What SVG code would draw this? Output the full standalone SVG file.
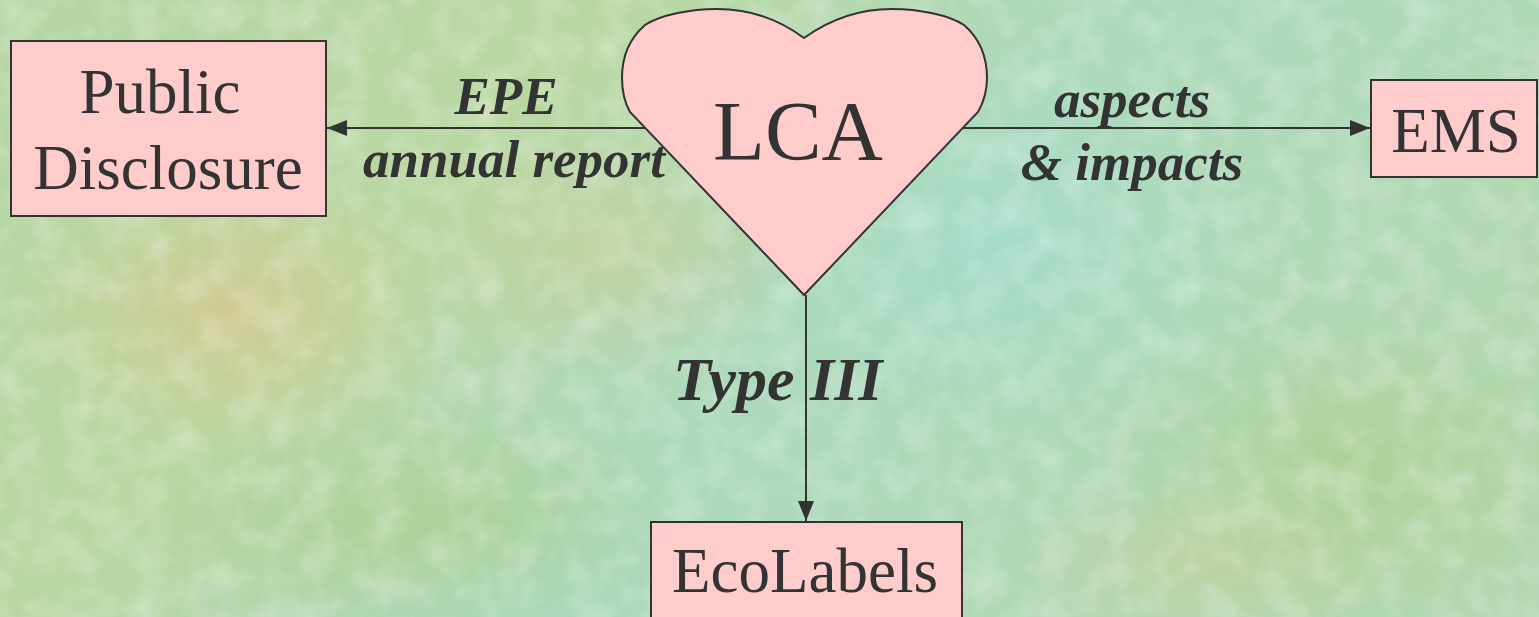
<svg xmlns="http://www.w3.org/2000/svg" width="1539" height="617" viewBox="0 0 1539 617">
  <defs>
    <linearGradient id="bg" x1="0" y1="0" x2="1" y2="0.4">
      <stop offset="0" stop-color="#b4d6a4"/>
      <stop offset="0.35" stop-color="#b9d7a2"/>
      <stop offset="0.65" stop-color="#acd9bd"/>
      <stop offset="1" stop-color="#b2d8b0"/>
    </linearGradient>
    <radialGradient id="warm1" cx="0.5" cy="0.5" r="0.5">
      <stop offset="0" stop-color="#d6c98f" stop-opacity="0.8"/>
      <stop offset="1" stop-color="#d6c98f" stop-opacity="0"/>
    </radialGradient>
    <radialGradient id="teal1" cx="0.5" cy="0.5" r="0.5">
      <stop offset="0" stop-color="#a4dccd" stop-opacity="0.8"/>
      <stop offset="1" stop-color="#a4dccd" stop-opacity="0"/>
    </radialGradient>
    <radialGradient id="green1" cx="0.5" cy="0.5" r="0.5">
      <stop offset="0" stop-color="#a9cf8e" stop-opacity="0.7"/>
      <stop offset="1" stop-color="#a9cf8e" stop-opacity="0"/>
    </radialGradient>
    <filter id="tex" x="0" y="0" width="100%" height="100%">
      <feTurbulence type="fractalNoise" baseFrequency="0.03" numOctaves="3" seed="4" result="n"/>
      <feColorMatrix type="matrix" values="0 0 0 0 1  0 0 0 0 1  0 0 0 0 1  0 0 0 -2.2 1.35" result="w"/>
      <feComposite in="w" in2="SourceGraphic" operator="in"/>
    </filter>
    <marker id="arr" viewBox="0 0 20 16" refX="20" refY="8" markerWidth="20" markerHeight="16" markerUnits="userSpaceOnUse" orient="auto">
      <path d="M0,0 L20,8 L0,16 Z" fill="#333"/>
    </marker>
    <style>
      .box { fill: #ffcccc; stroke: #333; stroke-width: 2; }
      .lbl { font-family: "Liberation Serif", "Times New Roman", serif; fill: #333; text-anchor: middle; }
      .node { font-size: 63px; }
      .edge { font-size: 53px; font-weight: bold; font-style: italic; }
      .conn { stroke: #333; stroke-width: 2; fill: none; }
    </style>
  </defs>

  <g id="background">
    <rect x="0" y="0" width="1539" height="617" fill="url(#bg)"/>
    <ellipse cx="230" cy="310" rx="220" ry="150" fill="url(#warm1)"/>
    <ellipse cx="600" cy="250" rx="200" ry="120" fill="url(#warm1)" opacity="0.5"/>
    <ellipse cx="1000" cy="250" rx="260" ry="180" fill="url(#teal1)"/>
    <ellipse cx="1350" cy="470" rx="250" ry="160" fill="url(#green1)"/>
    <ellipse cx="420" cy="520" rx="300" ry="120" fill="url(#green1)"/>
    <ellipse cx="1200" cy="560" rx="200" ry="80" fill="url(#warm1)" opacity="0.4"/>
    <rect x="0" y="0" width="1539" height="617" fill="#ffffff" opacity="0.25" filter="url(#tex)"/>
  </g>

  <g id="connectors">
    <line class="conn" x1="645" y1="128" x2="327" y2="128" marker-end="url(#arr)"/>
    <line class="conn" x1="962" y1="128" x2="1370" y2="128" marker-end="url(#arr)"/>
    <line class="conn" x1="806" y1="295" x2="806" y2="521" marker-end="url(#arr)"/>
    <text class="lbl edge" x="506" y="114">EPE</text>
    <text class="lbl edge" x="514" y="177">annual report</text>
    <text class="lbl edge" x="1132" y="117">aspects</text>
    <text class="lbl edge" x="1132" y="180">&amp; impacts</text>
    <text class="lbl edge" x="673" y="400" style="font-size:62px;text-anchor:start">Type III</text>
  </g>

  <g id="node-lca">
    <path class="box" d="M804,38 C780,20 750,9 717,9 C690,9 660,15 645,25 C630,38 622,55 622,78 C622,95 626,105 630,112 L804,295 L978,112 C982,105 987,95 987,78 C987,55 979,38 964,25 C949,15 919,9 892,9 C859,9 829,20 804,38 Z"/>
    <text class="lbl" x="798" y="160" style="font-size:85px">LCA</text>
  </g>

  <g id="node-public-disclosure">
    <rect class="box" x="11" y="41" width="315" height="175"/>
    <text class="lbl node" x="160" y="113">Public</text>
    <text class="lbl node" x="168" y="189">Disclosure</text>
  </g>

  <g id="node-ems">
    <rect class="box" x="1371" y="80" width="166" height="97"/>
    <text class="lbl node" x="1456" y="152">EMS</text>
  </g>

  <g id="node-ecolabels">
    <rect class="box" x="651" y="522" width="311" height="110"/>
    <text class="lbl node" x="805" y="592">EcoLabels</text>
  </g>
</svg>
